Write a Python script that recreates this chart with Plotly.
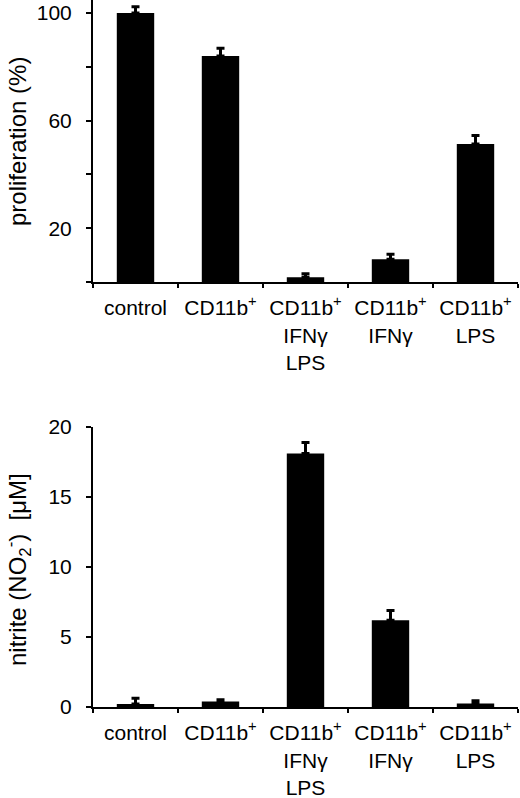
import plotly.graph_objects as go
from plotly.subplots import make_subplots

categories = ["control", "CD11b<sup>+</sup>", "CD11b<sup>+</sup><br>IFNγ<br>LPS",
              "CD11b<sup>+</sup><br>IFNγ", "CD11b<sup>+</sup><br>LPS"]
cat_keys = ["c1", "c2", "c3", "c4", "c5"]

prolif_values = [100, 84, 1.8, 8.5, 51.3]
prolif_errors = [2.3, 2.9, 1.3, 1.8, 3.2]

nitrite_values = [0.22, 0.4, 18.1, 6.2, 0.25]
nitrite_errors = [0.4, 0.12, 0.8, 0.7, 0.2]

prolif_tickvals = [20, 60, 100]
prolif_minor_ticks = [0, 40, 80]
nitrite_tickvals = [0, 5, 10, 15, 20]

FONT = "Liberation Sans, Arial, Helvetica, sans-serif"
W, H = 520, 798

fig = make_subplots(rows=2, cols=1)

def add_bars(vals, errs, row):
    fig.add_trace(go.Bar(
        x=cat_keys, y=vals, width=0.44,
        marker=dict(color="black", line=dict(width=0)),
        error_y=dict(type="data", array=errs, arrayminus=[0]*len(errs),
                     symmetric=False, color="black", thickness=3, width=4),
        showlegend=False, hoverinfo="skip"), row=row, col=1)

add_bars(prolif_values, prolif_errors, 1)
add_bars(nitrite_values, nitrite_errors, 2)

xd = [93 / W, 518 / W]
top_dom = [1 - 282 / H, 1.0]
bot_dom = [1 - 707 / H, 1 - 427 / H]
top_max = 100 + 13 * 100 / (282 - 13)

xcommon = dict(type="category", range=[-0.5, 4.5], showline=True, linecolor="black",
               linewidth=2, ticks="outside", ticklen=4, tickwidth=2, tickcolor="black",
               tickson="boundaries", showgrid=False, zeroline=False, automargin=False,
               tickvals=cat_keys, ticktext=categories, ticklabelstandoff=6,
               tickfont=dict(family=FONT, size=21, color="black"), domain=xd)
ycommon = dict(showline=True, linecolor="black", linewidth=2, ticks="outside",
               ticklen=5, tickwidth=2, tickcolor="black", showgrid=False, zeroline=False,
               automargin=False, tickmode="array",
               tickfont=dict(family=FONT, size=21, color="black"), ticklabelstandoff=10)

fig.update_xaxes(**xcommon)
fig.update_layout(
    template="none",
    xaxis=dict(anchor="y"),
    xaxis2=dict(anchor="y2"),
    yaxis=dict(**ycommon, domain=top_dom, range=[0, top_max],
               tickvals=prolif_tickvals,
               minor=dict(tickvals=prolif_minor_ticks, ticks="outside", ticklen=5,
                          tickwidth=2, tickcolor="black", showgrid=False)),
    yaxis2=dict(**ycommon, domain=bot_dom, range=[0, 20],
                tickvals=nitrite_tickvals),
    width=W, height=H,
    margin=dict(l=0, r=0, t=0, b=0),
    paper_bgcolor="white", plot_bgcolor="white",
    font=dict(family=FONT, color="black"),
    annotations=[
        dict(text="proliferation (%)", xref="paper", yref="paper",
             x=17 / W, y=1 - 142 / H, textangle=-90, showarrow=False,
             xanchor="center", yanchor="middle",
             font=dict(family=FONT, size=24, color="black")),
        dict(text="nitrite (NO<sub>2</sub><sup>-</sup>)\u00a0\u00a0[μM]", xref="paper", yref="paper",
             x=18 / W, y=1 - 570 / H, textangle=-90, showarrow=False,
             xanchor="center", yanchor="middle",
             font=dict(family=FONT, size=24, color="black")),
    ],
)

fig.write_html("out.html", config={"displayModeBar": False},
               post_script="document.body.style.margin='0';")
